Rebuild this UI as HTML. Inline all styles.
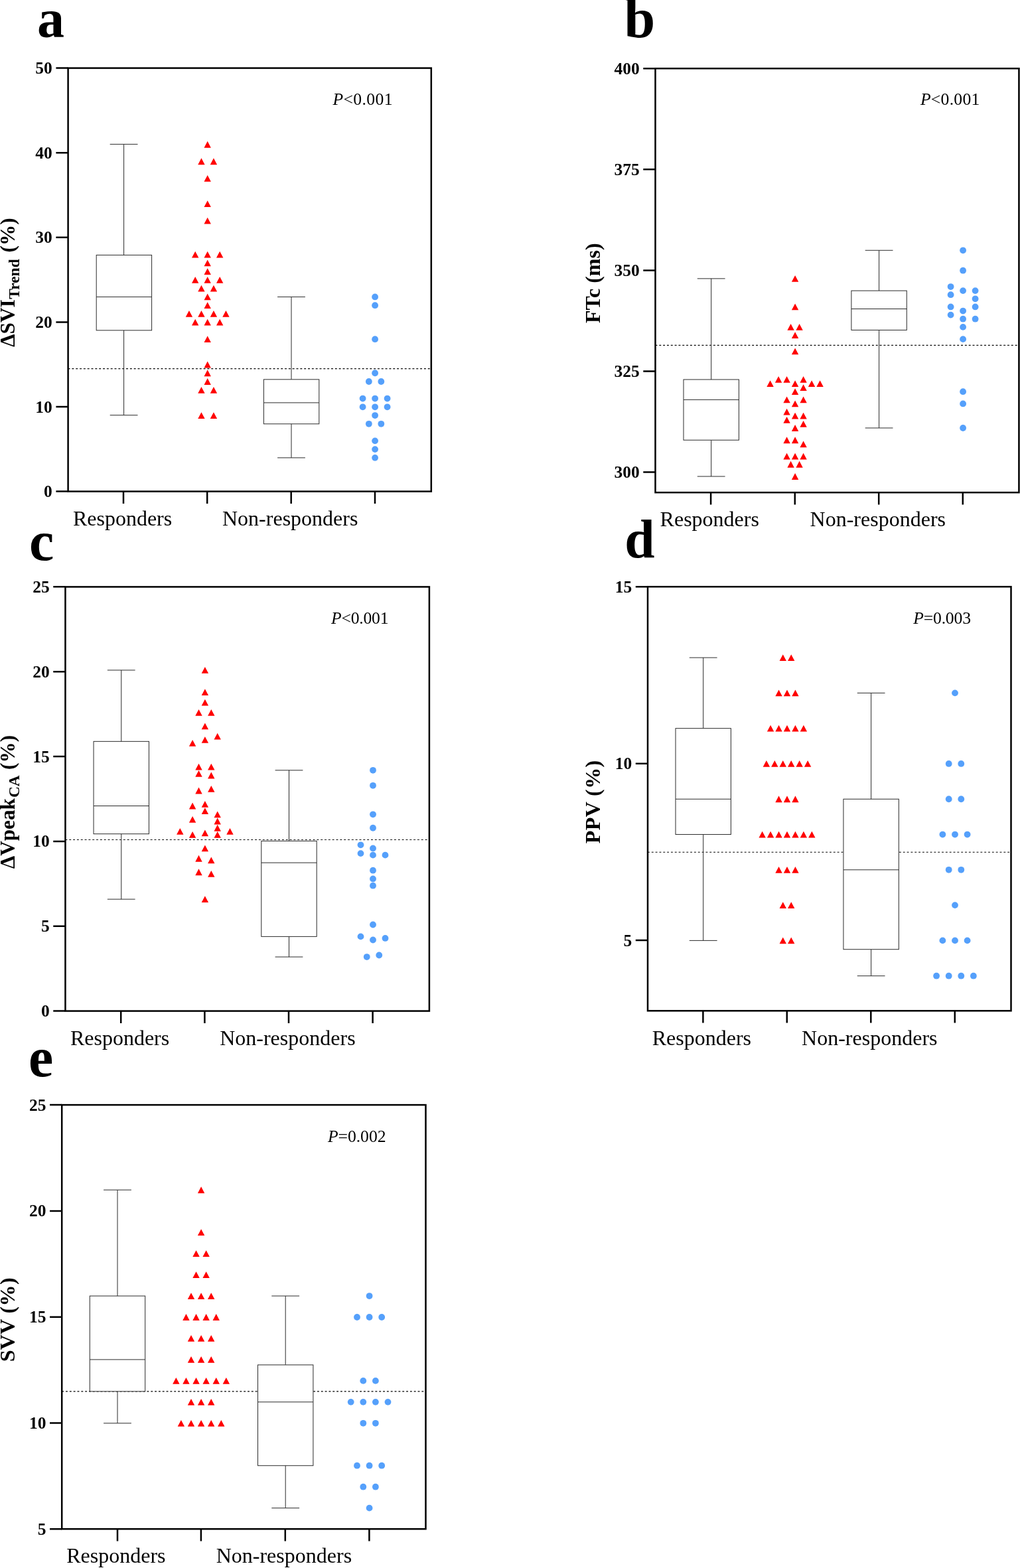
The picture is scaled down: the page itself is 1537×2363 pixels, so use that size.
<!DOCTYPE html>
<html lang="en"><head><meta charset="utf-8"><title>Figure</title>
<style>
html,body{margin:0;padding:0;background:#fff}
svg{display:block}
text{font-family:"Liberation Serif","Times New Roman",serif;fill:#000}
.tk{font-size:25.5px;font-weight:bold;text-anchor:end}
.xl{font-size:32.0px}
.pv{font-size:25.7px}
.lab{font-weight:bold}
.yt{font-weight:bold;font-size:32px}
</style></head><body>
<svg width="1537" height="2363" viewBox="0 0 1537 2363">
<rect width="1537" height="2363" fill="#fff"/>
<line x1="102.6" y1="555.6" x2="649.8" y2="555.6" stroke="#000" stroke-width="1.15" stroke-dasharray="2.9 2.93"/>
<g stroke="#2b2b2b" stroke-width="1.0" fill="none"><path d="M186.6 217.36V384.39M186.6 497.82V625.68M165.7 217.36H207.5M165.7 625.68H207.5"/><rect x="145.2" y="384.39" width="83.4" height="113.44" fill="#fff"/><path d="M145.2 447.42H228.6"/></g>
<g stroke="#2b2b2b" stroke-width="1.0" fill="none"><path d="M439 447.42V571.83M439 638.82V689.86M418.1 447.42H459.9M418.1 689.86H459.9"/><rect x="397.4" y="571.83" width="83.4" height="66.99" fill="#fff"/><path d="M397.4 606.92H480.8"/></g>
<path fill="#FF0000" d="M312.7 212.84l5.2 9.8h-10.4zM303.45 238.36l5.2 9.8h-10.4zM321.95 238.36l5.2 9.8h-10.4zM312.7 263.88l5.2 9.8h-10.4zM312.7 302.16l5.2 9.8h-10.4zM312.7 327.68l5.2 9.8h-10.4zM294.2 378.72l5.2 9.8h-10.4zM312.7 378.72l5.2 9.8h-10.4zM331.2 378.72l5.2 9.8h-10.4zM312.7 391.48l5.2 9.8h-10.4zM312.7 404.24l5.2 9.8h-10.4zM294.2 417l5.2 9.8h-10.4zM312.7 417l5.2 9.8h-10.4zM331.2 417l5.2 9.8h-10.4zM303.45 429.76l5.2 9.8h-10.4zM321.95 429.76l5.2 9.8h-10.4zM312.7 442.52l5.2 9.8h-10.4zM312.7 455.28l5.2 9.8h-10.4zM284.95 468.04l5.2 9.8h-10.4zM303.45 468.04l5.2 9.8h-10.4zM321.95 468.04l5.2 9.8h-10.4zM340.45 468.04l5.2 9.8h-10.4zM294.2 480.8l5.2 9.8h-10.4zM312.7 480.8l5.2 9.8h-10.4zM331.2 480.8l5.2 9.8h-10.4zM312.7 506.32l5.2 9.8h-10.4zM312.7 544.6l5.2 9.8h-10.4zM312.7 557.36l5.2 9.8h-10.4zM312.7 570.12l5.2 9.8h-10.4zM303.45 582.88l5.2 9.8h-10.4zM321.95 582.88l5.2 9.8h-10.4zM303.45 621.16l5.2 9.8h-10.4zM321.95 621.16l5.2 9.8h-10.4z"/>
<g fill="#55A0FB"><circle cx="565.1" cy="447.42" r="4.9"/><circle cx="565.1" cy="460.18" r="4.9"/><circle cx="565.1" cy="511.22" r="4.9"/><circle cx="565.1" cy="562.26" r="4.9"/><circle cx="555.85" cy="575.02" r="4.9"/><circle cx="574.35" cy="575.02" r="4.9"/><circle cx="546.6" cy="600.54" r="4.9"/><circle cx="565.1" cy="600.54" r="4.9"/><circle cx="583.6" cy="600.54" r="4.9"/><circle cx="546.6" cy="613.3" r="4.9"/><circle cx="565.1" cy="613.3" r="4.9"/><circle cx="583.6" cy="613.3" r="4.9"/><circle cx="565.1" cy="626.06" r="4.9"/><circle cx="555.85" cy="638.82" r="4.9"/><circle cx="574.35" cy="638.82" r="4.9"/><circle cx="565.1" cy="664.34" r="4.9"/><circle cx="565.1" cy="677.1" r="4.9"/><circle cx="565.1" cy="689.86" r="4.9"/></g>
<rect x="102.6" y="102.6" width="547.2" height="638" fill="none" stroke="#000" stroke-width="2.5"/>
<path d="M84.4 740.6H102.6M84.4 613H102.6M84.4 485.4H102.6M84.4 357.8H102.6M84.4 230.2H102.6M84.4 102.6H102.6M186 740.6V758.9M312.2 740.6V758.9M438.7 740.6V758.9M565 740.6V758.9" stroke="#000" stroke-width="2.5" fill="none"/>
<text class="tk" x="78.8" y="749.1">0</text>
<text class="tk" x="78.8" y="621.5">10</text>
<text class="tk" x="78.8" y="493.9">20</text>
<text class="tk" x="78.8" y="366.3">30</text>
<text class="tk" x="78.8" y="238.7">40</text>
<text class="tk" x="78.8" y="111.1">50</text>
<text class="xl" x="109.9" y="791.5">Responders</text>
<text class="xl" x="335" y="791.5">Non-responders</text>
<text class="pv" x="501.4" y="157.5" textLength="90.2" lengthAdjust="spacing"><tspan font-style="italic">P</tspan>&lt;0.001</text>
<text class="lab" font-size="82" x="55.9" y="55.5">a</text>
<text class="yt" style="font-size:32px" textLength="71.9" lengthAdjust="spacingAndGlyphs" transform="translate(22.2 523.1) rotate(-90)">ΔSVI</text><text class="yt" style="font-size:23.5px" transform="translate(29.3 450.8) rotate(-90)">Trend</text><text class="yt" style="font-size:32px" textLength="52.1" lengthAdjust="spacingAndGlyphs" transform="translate(22.2 380.5) rotate(-90)">(%)</text>
<line x1="987.5" y1="520.3" x2="1535.4" y2="520.3" stroke="#000" stroke-width="1.15" stroke-dasharray="2.9 2.93"/>
<g stroke="#2b2b2b" stroke-width="1.0" fill="none"><path d="M1071.7 419.87V571.97M1071.7 663.23V717.98M1050.8 419.87H1092.6M1050.8 717.98H1092.6"/><rect x="1030" y="571.97" width="83.4" height="91.26" fill="#fff"/><path d="M1030 602.39H1113.4"/></g>
<g stroke="#2b2b2b" stroke-width="1.0" fill="none"><path d="M1324.6 377.28V438.12M1324.6 497.44V644.98M1303.7 377.28H1345.5M1303.7 644.98H1345.5"/><rect x="1282.9" y="438.12" width="83.4" height="59.32" fill="#fff"/><path d="M1282.9 465.5H1366.3"/></g>
<path fill="#FF0000" d="M1198.1 414.97l5.2 9.8h-10.4zM1198.1 457.56l5.2 9.8h-10.4zM1191.6 487.98l5.2 9.8h-10.4zM1204.6 487.98l5.2 9.8h-10.4zM1198.1 500.14l5.2 9.8h-10.4zM1198.1 524.48l5.2 9.8h-10.4zM1173.1 567.07l5.2 9.8h-10.4zM1185.6 567.07l5.2 9.8h-10.4zM1210.6 567.07l5.2 9.8h-10.4zM1160.6 573.15l5.2 9.8h-10.4zM1198.1 573.15l5.2 9.8h-10.4zM1223.1 573.15l5.2 9.8h-10.4zM1235.6 573.15l5.2 9.8h-10.4zM1210.6 579.24l5.2 9.8h-10.4zM1198.1 585.32l5.2 9.8h-10.4zM1185.6 597.49l5.2 9.8h-10.4zM1210.6 597.49l5.2 9.8h-10.4zM1198.1 603.57l5.2 9.8h-10.4zM1185.6 615.74l5.2 9.8h-10.4zM1198.1 621.82l5.2 9.8h-10.4zM1210.6 621.82l5.2 9.8h-10.4zM1185.6 627.91l5.2 9.8h-10.4zM1210.6 633.99l5.2 9.8h-10.4zM1198.1 640.08l5.2 9.8h-10.4zM1185.6 658.33l5.2 9.8h-10.4zM1198.1 658.33l5.2 9.8h-10.4zM1210.6 664.41l5.2 9.8h-10.4zM1185.6 682.66l5.2 9.8h-10.4zM1198.1 682.66l5.2 9.8h-10.4zM1210.6 682.66l5.2 9.8h-10.4zM1191.6 694.83l5.2 9.8h-10.4zM1204.6 694.83l5.2 9.8h-10.4zM1198.1 713.08l5.2 9.8h-10.4z"/>
<g fill="#55A0FB"><circle cx="1451.1" cy="377.28" r="4.9"/><circle cx="1451.1" cy="407.7" r="4.9"/><circle cx="1432.6" cy="432.04" r="4.9"/><circle cx="1451.1" cy="438.12" r="4.9"/><circle cx="1469.6" cy="438.12" r="4.9"/><circle cx="1432.6" cy="444.2" r="4.9"/><circle cx="1469.6" cy="450.29" r="4.9"/><circle cx="1432.6" cy="462.46" r="4.9"/><circle cx="1469.6" cy="462.46" r="4.9"/><circle cx="1451.1" cy="468.54" r="4.9"/><circle cx="1432.6" cy="474.62" r="4.9"/><circle cx="1451.1" cy="480.71" r="4.9"/><circle cx="1469.6" cy="480.71" r="4.9"/><circle cx="1451.1" cy="492.88" r="4.9"/><circle cx="1451.1" cy="511.13" r="4.9"/><circle cx="1451.1" cy="590.22" r="4.9"/><circle cx="1451.1" cy="608.47" r="4.9"/><circle cx="1451.1" cy="644.98" r="4.9"/></g>
<rect x="987.5" y="103.2" width="547.9" height="639" fill="none" stroke="#000" stroke-width="2.5"/>
<path d="M969.3 711.6H987.5M969.3 559.5H987.5M969.3 407.4H987.5M969.3 255.3H987.5M969.3 103.2H987.5M1071.1 742.2V760.5M1197.8 742.2V760.5M1324.2 742.2V760.5M1450.8 742.2V760.5" stroke="#000" stroke-width="2.5" fill="none"/>
<text class="tk" x="963.7" y="720.1">300</text>
<text class="tk" x="963.7" y="568">325</text>
<text class="tk" x="963.7" y="415.9">350</text>
<text class="tk" x="963.7" y="263.8">375</text>
<text class="tk" x="963.7" y="111.7">400</text>
<text class="xl" x="994.6" y="793.2">Responders</text>
<text class="xl" x="1220.6" y="793.2">Non-responders</text>
<text class="pv" x="1386.9" y="158.1" textLength="89.5" lengthAdjust="spacing"><tspan font-style="italic">P</tspan>&lt;0.001</text>
<text class="lab" font-size="84" x="940.4" y="56.3">b</text>
<text class="yt" letter-spacing="0" transform="translate(904.2 487) rotate(-90)"><tspan font-size="32px" dy="0">FTc (ms)</tspan></text>
<line x1="98.45" y1="1265.5" x2="646.9" y2="1265.5" stroke="#000" stroke-width="1.15" stroke-dasharray="2.9 2.93"/>
<g stroke="#2b2b2b" stroke-width="1.0" fill="none"><path d="M182.75 1009.94V1117.34M182.75 1256.69V1355.14M161.85 1009.94H203.65M161.85 1355.14H203.65"/><rect x="141.05" y="1117.34" width="83.4" height="139.36" fill="#fff"/><path d="M141.05 1214.5H224.45"/></g>
<g stroke="#2b2b2b" stroke-width="1.0" fill="none"><path d="M435.5 1160.81V1267.43M435.5 1411.39V1442.08M414.6 1160.81H456.4M414.6 1442.08H456.4"/><rect x="393.8" y="1267.43" width="83.4" height="143.96" fill="#fff"/><path d="M393.8 1300.16H477.2"/></g>
<path fill="#FF0000" d="M308.9 1005.04l5.2 9.8h-10.4zM308.9 1038.28l5.2 9.8h-10.4zM308.9 1053.63l5.2 9.8h-10.4zM299.5 1068.97l5.2 9.8h-10.4zM318.3 1068.97l5.2 9.8h-10.4zM308.9 1089.42l5.2 9.8h-10.4zM327.7 1104.77l5.2 9.8h-10.4zM308.9 1109.88l5.2 9.8h-10.4zM290.1 1114.99l5.2 9.8h-10.4zM299.5 1150.79l5.2 9.8h-10.4zM318.3 1150.79l5.2 9.8h-10.4zM299.5 1161.02l5.2 9.8h-10.4zM318.3 1163.58l5.2 9.8h-10.4zM318.3 1184.03l5.2 9.8h-10.4zM299.5 1186.59l5.2 9.8h-10.4zM308.9 1207.05l5.2 9.8h-10.4zM290.1 1209.6l5.2 9.8h-10.4zM308.9 1217.27l5.2 9.8h-10.4zM327.7 1222.39l5.2 9.8h-10.4zM290.1 1230.06l5.2 9.8h-10.4zM327.7 1232.62l5.2 9.8h-10.4zM327.7 1242.84l5.2 9.8h-10.4zM271.3 1247.96l5.2 9.8h-10.4zM346.5 1247.96l5.2 9.8h-10.4zM308.9 1250.51l5.2 9.8h-10.4zM290.1 1253.07l5.2 9.8h-10.4zM327.7 1253.07l5.2 9.8h-10.4zM308.9 1273.53l5.2 9.8h-10.4zM299.5 1288.87l5.2 9.8h-10.4zM318.3 1291.43l5.2 9.8h-10.4zM299.5 1309.33l5.2 9.8h-10.4zM318.3 1311.88l5.2 9.8h-10.4zM308.9 1350.24l5.2 9.8h-10.4z"/>
<g fill="#55A0FB"><circle cx="562" cy="1160.81" r="4.9"/><circle cx="562" cy="1183.82" r="4.9"/><circle cx="562" cy="1227.29" r="4.9"/><circle cx="562" cy="1247.74" r="4.9"/><circle cx="543.5" cy="1273.31" r="4.9"/><circle cx="562" cy="1278.43" r="4.9"/><circle cx="543.5" cy="1286.1" r="4.9"/><circle cx="562" cy="1288.66" r="4.9"/><circle cx="580.5" cy="1288.66" r="4.9"/><circle cx="562" cy="1311.67" r="4.9"/><circle cx="562" cy="1324.45" r="4.9"/><circle cx="562" cy="1334.68" r="4.9"/><circle cx="562" cy="1393.49" r="4.9"/><circle cx="543.5" cy="1411.39" r="4.9"/><circle cx="580.5" cy="1413.95" r="4.9"/><circle cx="562" cy="1416.51" r="4.9"/><circle cx="571.25" cy="1439.52" r="4.9"/><circle cx="552.75" cy="1442.08" r="4.9"/></g>
<rect x="98.45" y="884.4" width="548.45" height="639.2" fill="none" stroke="#000" stroke-width="2.5"/>
<path d="M80.25 1523.6H98.45M80.25 1395.75H98.45M80.25 1267.9H98.45M80.25 1140.05H98.45M80.25 1012.2H98.45M80.25 884.35H98.45M182.2 1523.6V1541.9M308.4 1523.6V1541.9M435 1523.6V1541.9M561.6 1523.6V1541.9" stroke="#000" stroke-width="2.5" fill="none"/>
<text class="tk" x="74.65" y="1532.1">0</text>
<text class="tk" x="74.65" y="1404.25">5</text>
<text class="tk" x="74.65" y="1276.4">10</text>
<text class="tk" x="74.65" y="1148.55">15</text>
<text class="tk" x="74.65" y="1020.7">20</text>
<text class="tk" x="74.65" y="892.85">25</text>
<text class="xl" x="105.9" y="1574.65">Responders</text>
<text class="xl" x="331.2" y="1574.65">Non-responders</text>
<text class="pv" x="499" y="939.6" textLength="86.5" lengthAdjust="spacing"><tspan font-style="italic">P</tspan>&lt;0.001</text>
<text class="lab" font-size="84" x="43.9" y="844">c</text>
<text class="yt" style="font-size:32px" textLength="106.2" lengthAdjust="spacingAndGlyphs" transform="translate(22.2 1309.3) rotate(-90)">ΔVpeak</text><text class="yt" style="font-size:23.5px" transform="translate(29.3 1202.1) rotate(-90)">CA</text><text class="yt" style="font-size:32px" textLength="52.1" lengthAdjust="spacingAndGlyphs" transform="translate(22.2 1159.9) rotate(-90)">(%)</text>
<line x1="976" y1="1284.2" x2="1523.5" y2="1284.2" stroke="#000" stroke-width="1.15" stroke-dasharray="2.9 2.93"/>
<g stroke="#2b2b2b" stroke-width="1.0" fill="none"><path d="M1059.7 991.08V1097.66M1059.7 1257.53V1417.4M1038.8 991.08H1080.6M1038.8 1417.4H1080.6"/><rect x="1018" y="1097.66" width="83.4" height="159.87" fill="#fff"/><path d="M1018 1204.24H1101.4"/></g>
<g stroke="#2b2b2b" stroke-width="1.0" fill="none"><path d="M1312.65 1044.37V1204.24M1312.65 1430.72V1470.69M1291.75 1044.37H1333.55M1291.75 1470.69H1333.55"/><rect x="1270.95" y="1204.24" width="83.4" height="226.48" fill="#fff"/><path d="M1270.95 1310.82H1354.35"/></g>
<path fill="#FF0000" d="M1179.78 986.18l5.2 9.8h-10.4zM1192.22 986.18l5.2 9.8h-10.4zM1173.55 1039.47l5.2 9.8h-10.4zM1186 1039.47l5.2 9.8h-10.4zM1198.45 1039.47l5.2 9.8h-10.4zM1161.1 1092.76l5.2 9.8h-10.4zM1173.55 1092.76l5.2 9.8h-10.4zM1186 1092.76l5.2 9.8h-10.4zM1198.45 1092.76l5.2 9.8h-10.4zM1210.9 1092.76l5.2 9.8h-10.4zM1154.88 1146.05l5.2 9.8h-10.4zM1167.33 1146.05l5.2 9.8h-10.4zM1179.78 1146.05l5.2 9.8h-10.4zM1192.22 1146.05l5.2 9.8h-10.4zM1204.67 1146.05l5.2 9.8h-10.4zM1217.12 1146.05l5.2 9.8h-10.4zM1173.55 1199.34l5.2 9.8h-10.4zM1186 1199.34l5.2 9.8h-10.4zM1198.45 1199.34l5.2 9.8h-10.4zM1148.65 1252.63l5.2 9.8h-10.4zM1161.1 1252.63l5.2 9.8h-10.4zM1173.55 1252.63l5.2 9.8h-10.4zM1186 1252.63l5.2 9.8h-10.4zM1198.45 1252.63l5.2 9.8h-10.4zM1210.9 1252.63l5.2 9.8h-10.4zM1223.35 1252.63l5.2 9.8h-10.4zM1173.55 1305.92l5.2 9.8h-10.4zM1186 1305.92l5.2 9.8h-10.4zM1198.45 1305.92l5.2 9.8h-10.4zM1179.78 1359.21l5.2 9.8h-10.4zM1192.22 1359.21l5.2 9.8h-10.4zM1179.78 1412.5l5.2 9.8h-10.4zM1192.22 1412.5l5.2 9.8h-10.4z"/>
<g fill="#55A0FB"><circle cx="1439" cy="1044.37" r="4.9"/><circle cx="1429.7" cy="1150.95" r="4.9"/><circle cx="1448.3" cy="1150.95" r="4.9"/><circle cx="1429.7" cy="1204.24" r="4.9"/><circle cx="1448.3" cy="1204.24" r="4.9"/><circle cx="1420.4" cy="1257.53" r="4.9"/><circle cx="1439" cy="1257.53" r="4.9"/><circle cx="1457.6" cy="1257.53" r="4.9"/><circle cx="1429.7" cy="1310.82" r="4.9"/><circle cx="1448.3" cy="1310.82" r="4.9"/><circle cx="1439" cy="1364.11" r="4.9"/><circle cx="1420.4" cy="1417.4" r="4.9"/><circle cx="1439" cy="1417.4" r="4.9"/><circle cx="1457.6" cy="1417.4" r="4.9"/><circle cx="1411.1" cy="1470.69" r="4.9"/><circle cx="1429.7" cy="1470.69" r="4.9"/><circle cx="1448.3" cy="1470.69" r="4.9"/><circle cx="1466.9" cy="1470.69" r="4.9"/></g>
<rect x="976" y="884.2" width="547.5" height="639.1" fill="none" stroke="#000" stroke-width="2.5"/>
<path d="M957.8 1417.1H976M957.8 1150.65H976M957.8 884.2H976M1059.4 1523.3V1541.6M1185.8 1523.3V1541.6M1312.3 1523.3V1541.6M1438.8 1523.3V1541.6" stroke="#000" stroke-width="2.5" fill="none"/>
<text class="tk" x="952.2" y="1425.6">5</text>
<text class="tk" x="952.2" y="1159.15">10</text>
<text class="tk" x="952.2" y="892.7">15</text>
<text class="xl" x="982.7" y="1574.65">Responders</text>
<text class="xl" x="1208.1" y="1574.65">Non-responders</text>
<text class="pv" x="1376.2" y="939.6" textLength="86.8" lengthAdjust="spacing"><tspan font-style="italic">P</tspan>=0.003</text>
<text class="lab" font-size="81.5" x="941.2" y="839.7">d</text>
<text class="yt" letter-spacing="0.42" transform="translate(904.2 1271.2) rotate(-90)"><tspan font-size="32px" dy="0">PPV (%)</tspan></text>
<line x1="93.2" y1="2096.9" x2="641.5" y2="2096.9" stroke="#000" stroke-width="1.15" stroke-dasharray="2.9 2.93"/>
<g stroke="#2b2b2b" stroke-width="1.0" fill="none"><path d="M177 1793.24V1953.04M177 2096.86V2144.8M156.1 1793.24H197.9M156.1 2144.8H197.9"/><rect x="135.3" y="1953.04" width="83.4" height="143.82" fill="#fff"/><path d="M135.3 2048.92H218.7"/></g>
<g stroke="#2b2b2b" stroke-width="1.0" fill="none"><path d="M430.2 1953.04V2056.91M430.2 2208.72V2272.64M409.3 1953.04H451.1M409.3 2272.64H451.1"/><rect x="388.5" y="2056.91" width="83.4" height="151.81" fill="#fff"/><path d="M388.5 2112.84H471.9"/></g>
<path fill="#FF0000" d="M303.1 1788.34l5.2 9.8h-10.4zM303.1 1852.26l5.2 9.8h-10.4zM295.55 1884.22l5.2 9.8h-10.4zM310.65 1884.22l5.2 9.8h-10.4zM295.55 1916.18l5.2 9.8h-10.4zM310.65 1916.18l5.2 9.8h-10.4zM288 1948.14l5.2 9.8h-10.4zM303.1 1948.14l5.2 9.8h-10.4zM318.2 1948.14l5.2 9.8h-10.4zM280.45 1980.1l5.2 9.8h-10.4zM295.55 1980.1l5.2 9.8h-10.4zM310.65 1980.1l5.2 9.8h-10.4zM325.75 1980.1l5.2 9.8h-10.4zM288 2012.06l5.2 9.8h-10.4zM303.1 2012.06l5.2 9.8h-10.4zM318.2 2012.06l5.2 9.8h-10.4zM288 2044.02l5.2 9.8h-10.4zM303.1 2044.02l5.2 9.8h-10.4zM318.2 2044.02l5.2 9.8h-10.4zM265.35 2075.98l5.2 9.8h-10.4zM280.45 2075.98l5.2 9.8h-10.4zM295.55 2075.98l5.2 9.8h-10.4zM310.65 2075.98l5.2 9.8h-10.4zM325.75 2075.98l5.2 9.8h-10.4zM340.85 2075.98l5.2 9.8h-10.4zM288 2107.94l5.2 9.8h-10.4zM303.1 2107.94l5.2 9.8h-10.4zM318.2 2107.94l5.2 9.8h-10.4zM272.9 2139.9l5.2 9.8h-10.4zM288 2139.9l5.2 9.8h-10.4zM303.1 2139.9l5.2 9.8h-10.4zM318.2 2139.9l5.2 9.8h-10.4zM333.3 2139.9l5.2 9.8h-10.4z"/>
<g fill="#55A0FB"><circle cx="556.6" cy="1953.04" r="4.9"/><circle cx="538" cy="1985" r="4.9"/><circle cx="556.6" cy="1985" r="4.9"/><circle cx="575.2" cy="1985" r="4.9"/><circle cx="547.3" cy="2080.88" r="4.9"/><circle cx="565.9" cy="2080.88" r="4.9"/><circle cx="528.7" cy="2112.84" r="4.9"/><circle cx="547.3" cy="2112.84" r="4.9"/><circle cx="565.9" cy="2112.84" r="4.9"/><circle cx="584.5" cy="2112.84" r="4.9"/><circle cx="547.3" cy="2144.8" r="4.9"/><circle cx="565.9" cy="2144.8" r="4.9"/><circle cx="538" cy="2208.72" r="4.9"/><circle cx="556.6" cy="2208.72" r="4.9"/><circle cx="575.2" cy="2208.72" r="4.9"/><circle cx="547.3" cy="2240.68" r="4.9"/><circle cx="565.9" cy="2240.68" r="4.9"/><circle cx="556.6" cy="2272.64" r="4.9"/></g>
<rect x="93.2" y="1665.1" width="548.3" height="639.1" fill="none" stroke="#000" stroke-width="2.5"/>
<path d="M75 2304.3H93.2M75 2144.5H93.2M75 1984.7H93.2M75 1824.9H93.2M75 1665.1H93.2M177 2304.2V2322.5M302.9 2304.2V2322.5M429.8 2304.2V2322.5M556.4 2304.2V2322.5" stroke="#000" stroke-width="2.5" fill="none"/>
<text class="tk" x="69.4" y="2312.8">5</text>
<text class="tk" x="69.4" y="2153">10</text>
<text class="tk" x="69.4" y="1993.2">15</text>
<text class="tk" x="69.4" y="1833.4">20</text>
<text class="tk" x="69.4" y="1673.6">25</text>
<text class="xl" x="100.2" y="2355.2">Responders</text>
<text class="xl" x="325.7" y="2355.2">Non-responders</text>
<text class="pv" x="493.9" y="1720.7" textLength="87.6" lengthAdjust="spacing"><tspan font-style="italic">P</tspan>=0.002</text>
<text class="lab" font-size="84" x="42.9" y="1622.3">e</text>
<text class="yt" letter-spacing="0.35" transform="translate(22.2 2052.3) rotate(-90)"><tspan font-size="32px" dy="0">SVV (%)</tspan></text>
</svg>
</body></html>
